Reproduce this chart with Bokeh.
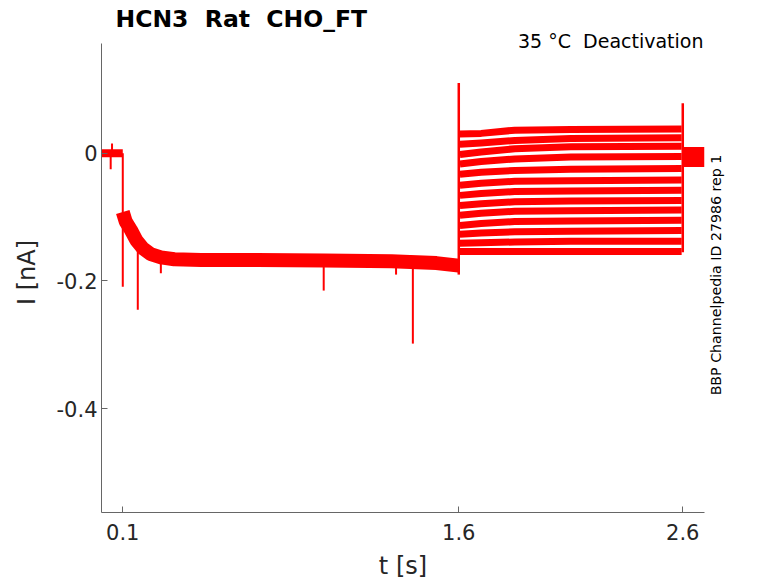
import math
from bokeh.plotting import figure
from bokeh.models import Range1d, FixedTicker, Label, LinearAxis
from bokeh.embed import file_html
from bokeh.resources import INLINE

# ---------------- data ----------------
title_text = "HCN3 \u00a0Rat \u00a0CHO_FT"
cond_text = "35 \u00b0C \u00a0Deactivation"
side_text = "BBP Channelpedia ID 27986 rep 1"

x_ticks = [0.1, 1.6, 2.6]
y_ticks = [-0.4, -0.2, 0.0]
y_tick_labels = {-0.4: "-0.4", -0.2: "-0.2", 0.0: "0"}

# visible axes extent
x_lim = (0.005, 2.697)
y_lim = (-0.5623, 0.1717)

# holding before the activation step
t_hold = [0.0, 0.1]
i_hold = [0.0, 0.0]

# activation step (all sweeps overlap)
t_act = [0.1, 0.113, 0.136, 0.16, 0.19, 0.225, 0.27, 0.33, 0.45, 0.7, 1.0, 1.3, 1.5, 1.6]
i_act = [-0.092, -0.107, -0.12, -0.136, -0.149, -0.158, -0.163, -0.166, -0.167,
         -0.167, -0.168, -0.169, -0.172, -0.176]

# deactivation tails (13 sweeps): values at t = 1.61, 1.70, 1.85, 2.10, 2.59
t_tail = [1.605, 1.70, 1.85, 2.10, 2.595]
tail_levels = [
    [0.030, 0.031, 0.036, 0.037, 0.038],
    [0.014, 0.016, 0.020, 0.023, 0.024],
    [-0.002, 0.002, 0.007, 0.010, 0.011],
    [-0.017, -0.013, -0.009, -0.006, -0.005],
    [-0.033, -0.030, -0.027, -0.025, -0.024],
    [-0.050, -0.047, -0.044, -0.043, -0.042],
    [-0.066, -0.063, -0.060, -0.059, -0.058],
    [-0.082, -0.079, -0.076, -0.075, -0.074],
    [-0.097, -0.094, -0.091, -0.090, -0.089],
    [-0.113, -0.110, -0.107, -0.106, -0.105],
    [-0.127, -0.125, -0.123, -0.122, -0.121],
    [-0.141, -0.140, -0.139, -0.138, -0.138],
    [-0.154, -0.154, -0.154, -0.154, -0.154],
]

# after the deactivation step
t_post = [2.6, 2.697]
i_post = [-0.006, -0.006]

# capacitive transients at the voltage steps
step_t = [1.6, 2.6]
step_lo = [-0.19, -0.155]
step_hi = [0.110, 0.078]

# brief spikes (artefacts)
spike_t = [0.046, 0.052, 0.100, 0.167, 0.27, 0.997, 1.32, 1.395]
spike_base = [0.0, 0.0, 0.0, -0.135, -0.165, -0.168, -0.168, -0.170]
spike_tip = [-0.025, 0.015, -0.209, -0.245, -0.188, -0.215, -0.19, -0.298]

# ---------------- figure ----------------
RED = "#ff0000"
FONT = "DejaVu Sans"
TXT = "#262626"

W, H = 778, 583
LEFT, RIGHT, TOP, BOTTOM = 101, 74, 32, 71
px_nA = 639.0
frame_h = H - TOP - BOTTOM
y_rng = Range1d(y_lim[0], y_lim[0] + frame_h / px_nA)   # a little headroom above axes
x_rng = Range1d(*x_lim)

p = figure(width=W, height=H, output_backend="svg", toolbar_location=None,
           x_range=x_rng, y_range=y_rng,
           min_border_left=LEFT, min_border_right=RIGHT, min_border_top=TOP,
           min_border_bottom=BOTTOM)
p.outline_line_color = None
p.grid.visible = False
p.background_fill_color = "white"
p.border_fill_color = "white"

p.title.text = title_text
p.title.align = "left"
p.title.offset = 14
p.title.standoff = 0
p.title.text_font = FONT
p.title.text_font_size = "23.5px"
p.title.text_font_style = "bold"
p.title.text_color = "#000000"

p.line(t_hold, i_hold, color=RED, line_width=8)
p.line(t_act, i_act, color=RED, line_width=14, line_join="round")
p.multi_line([t_tail] * len(tail_levels), tail_levels, color=RED, line_width=7,
             line_join="round")
p.line(t_post, i_post, color=RED, line_width=20)
p.segment(x0=step_t, y0=step_lo, x1=step_t, y1=step_hi, color=RED, line_width=2.5)
p.segment(x0=spike_t, y0=spike_base, x1=spike_t, y1=spike_tip, color=RED,
          line_width=2)

for ax in (p.xaxis[0], p.yaxis[0]):
    ax.major_tick_in = 6
    ax.major_tick_out = 0
    ax.minor_tick_line_color = None
    ax.axis_line_color = "#666666"
    ax.major_tick_line_color = "#666666"
    ax.major_label_text_font = FONT
    ax.major_label_text_font_size = "21px"
    ax.major_label_text_color = TXT
    ax.axis_label_text_font = FONT
    ax.axis_label_text_font_size = "24px"
    ax.axis_label_text_font_style = "normal"
    ax.axis_label_text_color = TXT

p.xaxis.ticker = FixedTicker(ticks=x_ticks)
p.xaxis.axis_label = "t [s]"
p.xaxis.major_label_standoff = 11
p.xaxis.axis_label_standoff = 9

p.yaxis.ticker = FixedTicker(ticks=y_ticks)
p.yaxis.bounds = y_lim
p.yaxis.major_label_overrides = y_tick_labels
p.yaxis.axis_label = "I [nA]"
p.yaxis.major_label_standoff = 4
p.yaxis.axis_label_standoff = 13

# vertical note on the right, drawn as the single label of a bare right axis
# (the label starts at its tick and reads upward)
side_pos = -0.379
side_axis = LinearAxis(ticker=FixedTicker(ticks=[side_pos]),
                       major_label_overrides={side_pos: side_text},
                       major_label_orientation=math.pi / 2,
                       axis_line_color=None, major_tick_line_color=None,
                       minor_tick_line_color=None, major_tick_in=0,
                       major_tick_out=0, major_label_standoff=12,
                       major_label_text_font=FONT,
                       major_label_text_font_size="14.2px",
                       major_label_text_color="#000000")
p.add_layout(side_axis, "right")

# condition note, inside the frame (screen units from frame bottom-left)
p.add_layout(Label(x=602, y=472, x_units="screen", y_units="screen", text=cond_text,
                   text_font=FONT, text_font_size="19px", text_color="#000000",
                   text_align="right", text_baseline="middle"))

open("out.html", "w").write(file_html(p, INLINE))
